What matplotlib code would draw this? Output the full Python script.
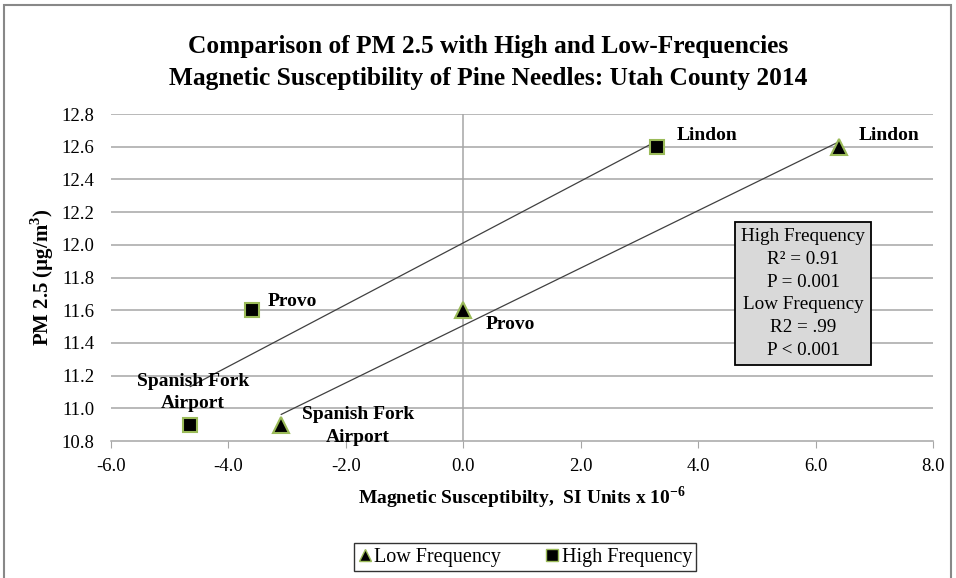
import numpy as np
import matplotlib.pyplot as plt
from matplotlib.lines import Line2D
from matplotlib.patches import Rectangle

plt.rcParams['font.family'] = ['Liberation Serif', 'DejaVu Serif']
plt.rcParams['mathtext.fontset'] = 'custom'
plt.rcParams['mathtext.rm'] = 'Liberation Serif'
plt.rcParams['mathtext.bf'] = 'Liberation Serif:bold'

# data
sites = ['Spanish Fork\nAirport', 'Provo', 'Lindon']
pm25 = np.array([10.9, 11.6, 12.6])
high_freq = np.array([-4.65, -3.6, 3.3])
low_freq = np.array([-3.1, 0.0, 6.4])

x_ticks = np.arange(-6, 8.1, 2)
y_ticks = np.arange(10.8, 12.81, 0.2)

stats_text = 'High Frequency\nR² = 0.91\nP = 0.001\nLow Frequency\nR2 = .99\nP < 0.001'

green = '#9BBB59'

fig = plt.figure(figsize=(9.56, 5.78), dpi=100)
ax = fig.add_axes([111/956, 1-441/578, (933-111)/956, (441-114)/578])

# grid + axes look (excel style)
for yv in y_ticks[1:]:
    ax.axhline(yv, color='#A6A6A6', lw=1.1, zorder=0)
ax.axvline(0, color='#A6A6A6', lw=1.1, zorder=0)
for s in ['top', 'right', 'left']:
    ax.spines[s].set_visible(False)
ax.spines['bottom'].set_color('#A6A6A6')
ax.spines['bottom'].set_linewidth(1.1)

# trend lines
for xs in (high_freq, low_freq):
    a, b = np.polyfit(xs, pm25, 1)
    xx = np.array([xs.min(), xs.max()])
    ax.plot(xx, a*xx+b, color='#404040', lw=0.9, zorder=2)

ax.plot(high_freq, pm25, ls='none', marker='s', ms=10, mfc='black', mec=green, mew=1.5, zorder=3)
ax.plot(low_freq, pm25, ls='none', marker='^', ms=11, mfc='black', mec=green, mew=1.5, zorder=3)

lbl = dict(fontsize=14, fontweight='bold', textcoords='offset points')
# high frequency labels
ax.annotate(sites[0], (high_freq[0], pm25[0]), xytext=(2, 23), ha='center', va='center',
            linespacing=1.4, **lbl)
ax.annotate(sites[1], (high_freq[1], pm25[1]), xytext=(11, 6.5), ha='left', va='center', **lbl)
ax.annotate(sites[2], (high_freq[2], pm25[2]), xytext=(14, 8), ha='left', va='center', **lbl)
# low frequency labels
ax.annotate(sites[0], (low_freq[0], pm25[0]), xytext=(15, -1), ha='left', va='center',
            multialignment='center', linespacing=1.4, **lbl)
ax.annotate(sites[1], (low_freq[1], pm25[1]), xytext=(16, -10), ha='left', va='center', **lbl)
ax.annotate(sites[2], (low_freq[2], pm25[2]), xytext=(14, 8), ha='left', va='center', **lbl)

ax.set_xlim(-6, 8)
ax.set_ylim(10.8, 12.8)
ax.set_xticks(x_ticks)
ax.set_xticklabels(['{:.1f}'.format(v) for v in x_ticks])
ax.set_yticks(y_ticks)
ax.set_yticklabels(['{:.1f}'.format(v) for v in y_ticks])
ax.tick_params(axis='x', length=5, color='#A6A6A6', labelsize=13.5, pad=7)
ax.tick_params(axis='y', length=0, labelsize=13.5, pad=12)

ax.set_xlabel(r'Magnetic Susceptibilty,  SI Units x 10$^{\mathbf{-6}}$', fontsize=14,
              fontweight='bold', labelpad=7)
ax.set_ylabel(r'PM 2.5 (µg/m$^{\mathbf{3}}$)', fontsize=15, fontweight='bold', labelpad=4)

ax.text(0.842, 0.451, stats_text, transform=ax.transAxes, fontsize=13.8,
        ha='center', va='center', linespacing=1.44,
        bbox=dict(boxstyle='square,pad=0.3', fc='#D9D9D9', ec='black', lw=1.3))

fig.text(488/956, 1-63/578,
         'Comparison of PM 2.5 with High and Low-Frequencies\nMagnetic Susceptibility of Pine Needles: Utah County 2014',
         fontsize=18.3, fontweight='bold', ha='center', va='center', linespacing=1.5)

# legend at the bottom
handles = [Line2D([], [], ls='none', marker='^', ms=9, mfc='black', mec=green, mew=1),
           Line2D([], [], ls='none', marker='s', ms=8, mfc='black', mec=green, mew=1)]
leg = fig.legend(handles, ['Low Frequency', 'High Frequency'], loc='center', ncol=2,
                 bbox_to_anchor=(525/956, 1-557/578), fontsize=14.5, frameon=True,
                 fancybox=False, edgecolor='black', handlelength=0.7, handletextpad=0.1,
                 columnspacing=2.2, borderpad=0.2, borderaxespad=0.0)
leg.get_frame().set_linewidth(1.0)

# outer chart border
fig.patches.append(Rectangle((4/956, -0.05), 947/956, 1.05-5/578, transform=fig.transFigure,
                             fill=False, ec='#888888', lw=1.5))

fig.savefig('out.png', dpi=100)
